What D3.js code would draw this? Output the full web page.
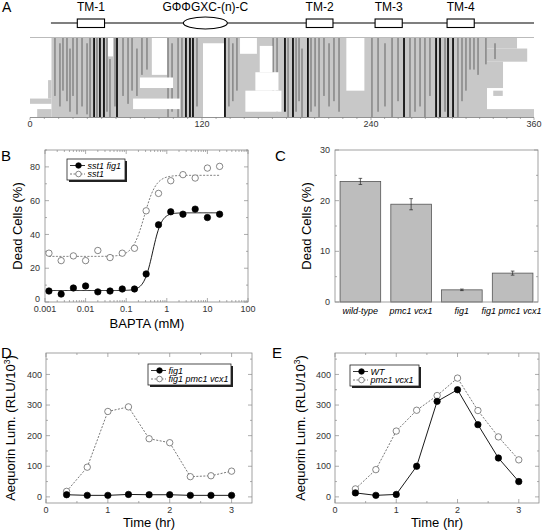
<!DOCTYPE html>
<html><head><meta charset="utf-8">
<script src="https://cdn.jsdelivr.net/npm/d3@7"></script>
<style>body{margin:0;background:#fff}svg{display:block}text{font-family:"Liberation Sans",Arial,Helvetica,sans-serif}</style>
</head><body><svg id="c" width="544" height="532"></svg>
<script>
// ---------- Panel A data ----------
const domainLabels = ["TM-1","GΦΦGXC-(n)-C","TM-2","TM-3","TM-4"];
const domainKind   = ["box","ellipse","box","box","box"];
const domainStart  = [33,107,194,243,296];
const domainEnd    = [52,138,213,263,316];
const alignTicks   = [0,120,240,360];
// [posStart,posEnd,rowStart,rowEnd]
const greyBlocks = [[15,120,0,30],[12.6,15,16,23],[0,15,23,25],[5,15,27,30],
  [120,325.4,0,30],[325.4,347.5,0,4],[325.4,355,4,9],[325.4,337.2,9,19],[330,337,20,22],[325.4,360,27,30]];
const whiteHoles = [[54.4,57.9,0,7],[85,95.6,0,14],[76.7,99.8,15,19],[71.9,104.7,23,27],
  [120.7,135.6,2,30],[147,159,0,6],[161,170,3,13],[157.9,174.3,13,20],[150.8,176.4,20,28],[222.5,235.3,0,20]];
// [pos,rowStart,rowEnd]
const darkStreaks = [[17.4,0,22],[20.9,2,26],[23,0,20],[25.8,0,24],[27.9,4,28],[30,0,22],[32.8,0,29],[36.3,0,26],[39.8,2,29],[41.9,0,30],[46.7,0,30],[53.7,0,28],[55.8,8,30],[59.3,0,26],[64.9,0,22],[68.4,0,25],[71.2,0,20],[74.6,4,22],[78.1,0,14],[81.6,0,12],
  [96.3,0,30],[99.1,2,28],[103.3,0,30],[106,0,30],[116.5,0,26],
  [139.1,0,26],[141.9,2,24],[144.8,0,20],
  [170.5,0,26],[173.3,0,28],[181.1,0,30],[186.8,0,28],[188.9,0,24],[191,4,30],[197.4,0,28],[200.3,0,26],[203.1,0,30],[206.6,0,22],[210.2,2,26],[213.7,0,24],[217.3,0,28],
  [240.7,0,30],[245.2,0,28],[250.3,2,26],[255.5,0,30],[259.9,0,24],[268.7,0,30],[272.4,0,28],[276.1,0,26],[279.7,0,30],[283.4,0,22],[294.5,0,28],[304,0,30],[307,0,24],[309.9,0,20],[312.9,0,12],[315.8,0,12],[318.8,0,14],[324.6,0,10],[331.3,2,8]];
const blackLines = [[44.7,0,30],[48.8,0,30],[51.6,0,30],[60.7,0,30],[108.8,0,30],[111.6,0,30],[113.7,0,30],[136.3,0,30],[178.9,0,28],[184.6,0,30],[195.2,0,30],[264.3,0,30],[287.9,0,30],[290.8,0,30],[296.7,0,30],[300.4,0,30]];

// ---------- Panel B data ----------
const bapta = [0.00125,0.0025,0.005,0.01,0.02,0.04,0.08,0.16,0.31,0.625,1.25,2.5,5,10,20];
const sst1fig1 = [6.5,4.7,8.3,9.5,6,6.5,7.7,7.7,16.6,45.7,53.4,52,55,50,52];
const sst1 = [28.9,24.5,27.3,24.5,30.5,26.3,28.9,31.8,54,64.3,71.8,75.4,73.4,79.3,80.3];
// Hill fit parameters: [bottom, top, EC50, n]
const fitSst1fig1 = [6.8,52.8,0.45,4];
const fitSst1 = [27,75,0.28,3];
const bXTicks = [0.001,0.01,0.1,1,10,100];
const bXTickLabels = ["0.001","0.01","0.1","1","10","100"];
const bYTicks = [0,20,40,60,80];

// ---------- Panel C data ----------
const strains = ["wild-type","pmc1 vcx1","fig1","fig1 pmc1 vcx1"];
const deadCells = [23.8,19.3,2.4,5.7];
const deadErr = [0.6,1.1,0.15,0.4];
const cYTicks = [0,10,20,30];

// ---------- Panels D/E data ----------
const timeHr = [0.333,0.667,1,1.333,1.667,2,2.333,2.667,3];
const dFig1 = [7,5,5,8,7,7,5,5,5];
const dFig1PmcVcx = [18,97,279,294,190,177,66,69,84];
const eWT = [13,5,8,100,312,350,236,127,50];
const ePmcVcx = [26,89,215,283,331,388,282,196,121];
const lumTicks = [0,100,200,300,400];
const timeTicks = [0,1,2,3];

// ---------- drawing ----------
const svg = d3.select("#c");
const FRAME = "#8a8a8a", TICKTXT = "#333";

// Panel A
const xA = d3.scaleLinear().domain([0,120,240,360]).range([30,202,371,534]);
const rA = d3.scaleLinear().domain([0,30]).range([38,117]);
const gA = svg.append("g");
gA.append("text").attr("x",2).attr("y",12).attr("font-size",14).text("A");
gA.append("line").attr("x1",xA(14.6)).attr("x2",xA(360)).attr("y1",23).attr("y2",23).attr("stroke","#000").attr("stroke-width",1.2);
domainLabels.forEach((lab,i)=>{
  const x0=xA(domainStart[i]), x1=xA(domainEnd[i]), cx=(x0+x1)/2;
  if(domainKind[i]==="box"){
    gA.append("rect").attr("x",x0).attr("y",19).attr("width",x1-x0).attr("height",8.5).attr("fill","#fff").attr("stroke","#000").attr("stroke-width",1.1);
  } else {
    gA.append("ellipse").attr("cx",cx).attr("cy",23).attr("rx",(x1-x0)/2).attr("ry",6).attr("fill","#fff").attr("stroke","#000").attr("stroke-width",1.1);
  }
  gA.append("text").attr("x",cx).attr("y",10.5).attr("text-anchor","middle").attr("font-size",12).text(lab);
});
gA.selectAll(".gb").data(greyBlocks).join("rect")
  .attr("x",d=>xA(d[0])).attr("width",d=>xA(d[1])-xA(d[0]))
  .attr("y",d=>rA(d[2])).attr("height",d=>rA(d[3])-rA(d[2])).attr("fill","#c8c8c8");
gA.selectAll(".ds").data(darkStreaks).join("rect")
  .attr("x",d=>xA(d[0])-0.8).attr("width",1.6)
  .attr("y",d=>rA(d[1])).attr("height",d=>rA(d[2])-rA(d[1])).attr("fill","#8a8a8a");
gA.selectAll(".wh").data(whiteHoles).join("rect")
  .attr("x",d=>xA(d[0])).attr("width",d=>xA(d[1])-xA(d[0]))
  .attr("y",d=>rA(d[2])).attr("height",d=>rA(d[3])-rA(d[2])).attr("fill","#fff");
gA.selectAll(".bl").data(blackLines).join("rect")
  .attr("x",d=>xA(d[0])-0.9).attr("width",1.8)
  .attr("y",d=>rA(d[1])).attr("height",d=>rA(d[2])-rA(d[1])).attr("fill","#111");
gA.append("line").attr("x1",xA(0)).attr("x2",xA(360)).attr("y1",37.5).attr("y2",37.5).attr("stroke","#aaa").attr("stroke-width",0.8);
gA.append("line").attr("x1",xA(0)).attr("x2",xA(360)).attr("y1",117.5).attr("y2",117.5).attr("stroke","#777").attr("stroke-width",0.8);
gA.selectAll(".mt").data(d3.range(0,361,10)).join("line")
  .attr("x1",d=>xA(d)).attr("x2",d=>xA(d)).attr("y1",117.5).attr("y2",d=>alignTicks.includes(d)?120:119)
  .attr("stroke","#777").attr("stroke-width",0.6);
alignTicks.forEach(t=>gA.append("text").attr("x",xA(t)).attr("y",127).attr("text-anchor","middle").attr("font-size",9).attr("fill",TICKTXT).text(t));

// helpers
function frame(g,x0,y0,x1,y1){
  g.append("rect").attr("x",x0).attr("y",y0).attr("width",x1-x0).attr("height",y1-y0).attr("fill","none").attr("stroke",FRAME).attr("stroke-width",0.8);
}
function yTicks(g,ys,vals,x0,x1,len){
  vals.forEach(v=>{const y=ys(v);
    g.append("line").attr("x1",x0).attr("x2",x0+len).attr("y1",y).attr("y2",y).attr("stroke",FRAME).attr("stroke-width",0.7);
    g.append("line").attr("x1",x1).attr("x2",x1-len).attr("y1",y).attr("y2",y).attr("stroke",FRAME).attr("stroke-width",0.7);});
}
function xTicks(g,xs,vals,y0,y1,len){
  vals.forEach(v=>{const x=xs(v);
    g.append("line").attr("x1",x).attr("x2",x).attr("y1",y1).attr("y2",y1-len).attr("stroke",FRAME).attr("stroke-width",0.7);
    g.append("line").attr("x1",x).attr("x2",x).attr("y1",y0).attr("y2",y0+len).attr("stroke",FRAME).attr("stroke-width",0.7);});
}
function yTitle(g,x,yc,txt,sup){
  const t=g.append("text").attr("transform",`translate(${x},${yc}) rotate(-90)`).attr("text-anchor","middle").attr("font-size",13).text(txt);
  if(sup){t.append("tspan").attr("dy",-5).attr("font-size",8.5).text(sup[0]);t.append("tspan").attr("dy",5).text(sup[1]);}
}
function legend(g,x0,y0,x1,y1,items){
  g.append("rect").attr("x",x0+2).attr("y",y0+2).attr("width",x1-x0).attr("height",y1-y0).attr("fill","#222");
  g.append("rect").attr("x",x0).attr("y",y0).attr("width",x1-x0).attr("height",y1-y0).attr("fill","#fff").attr("stroke","#222").attr("stroke-width",0.8);
  items.forEach((it,i)=>{
    const y=y0+6.5+i*8.5, lx0=x0+3, lx1=x0+18;
    g.append("line").attr("x1",lx0).attr("x2",lx1).attr("y1",y).attr("y2",y).attr("stroke",it.filled?"#000":"#555").attr("stroke-width",0.8).attr("stroke-dasharray",it.filled?null:"2,1.5");
    g.append("circle").attr("cx",(lx0+lx1)/2+1).attr("cy",y).attr("r",2.8).attr("fill",it.filled?"#000":"#fff").attr("stroke",it.filled?"#000":"#555").attr("stroke-width",0.7);
    g.append("text").attr("x",lx1+2.5).attr("y",y+3.1).attr("font-size",9).attr("font-style","italic").text(it.label);
  });
}
function series(g,xs,ys,xv,yv,filled,connect){
  if(connect){
    g.append("path").datum(xv.map((x,i)=>[x,yv[i]])).attr("d",d3.line().x(d=>xs(d[0])).y(d=>ys(d[1])))
      .attr("fill","none").attr("stroke",filled?"#000":"#555").attr("stroke-width",filled?0.9:0.8).attr("stroke-dasharray",filled?null:"2,1.5");
  }
  g.selectAll(null).data(xv.map((x,i)=>[x,yv[i]])).join("circle")
    .attr("cx",d=>xs(d[0])).attr("cy",d=>ys(d[1])).attr("r",3.2)
    .attr("fill",filled?"#000":"#fff").attr("stroke",filled?"#000":"#555").attr("stroke-width",0.7);
}

// Panel B
const gB = svg.append("g");
const xB = d3.scaleLog().domain([0.001,100]).range([45,248]);
const yB = d3.scaleLinear().domain([0,90]).range([302,150]);
gB.append("text").attr("x",1).attr("y",161).attr("font-size",15).text("B");
frame(gB,45,150,248,302);
yTicks(gB,yB,bYTicks,45,248,4);
yTicks(gB,yB,[10,30,50,70,90],45,248,2);
const bMinor=[];[0.001,0.01,0.1,1,10].forEach(d=>[2,3,4,5,6,7,8,9].forEach(k=>bMinor.push(d*k)));
xTicks(gB,xB,bXTicks,150,302,4);
xTicks(gB,xB,bMinor,150,302,2);
bYTicks.forEach(v=>gB.append("text").attr("x",40).attr("y",yB(v)+(v===0?-0.5:3.1)).attr("text-anchor","end").attr("font-size",9).attr("fill",TICKTXT).text(v));
bXTicks.forEach((v,i)=>gB.append("text").attr("x",xB(v)).attr("y",312).attr("text-anchor","middle").attr("font-size",9).attr("fill",TICKTXT).text(bXTickLabels[i]));
yTitle(gB,22,226,"Dead Cells (%)");
gB.append("text").attr("x",147).attr("y",328).attr("text-anchor","middle").attr("font-size",13).text("BAPTA (mM)");
function hillPath(p){
  const xs=d3.range(0,201).map(i=>Math.pow(10,Math.log10(bapta[0])+i/200*(Math.log10(bapta[bapta.length-1])-Math.log10(bapta[0]))));
  return xs.map(x=>[x,p[0]+(p[1]-p[0])/(1+Math.pow(p[2]/x,p[3]))]);
}
gB.append("path").datum(hillPath(fitSst1)).attr("d",d3.line().x(d=>xB(d[0])).y(d=>yB(d[1]))).attr("fill","none").attr("stroke","#555").attr("stroke-width",0.8).attr("stroke-dasharray","2,1.5");
gB.append("path").datum(hillPath(fitSst1fig1)).attr("d",d3.line().x(d=>xB(d[0])).y(d=>yB(d[1]))).attr("fill","none").attr("stroke","#000").attr("stroke-width",0.9);
series(gB,xB,yB,bapta,sst1,false,false);
series(gB,xB,yB,bapta,sst1fig1,true,false);
legend(gB,67,159,125,180,[{label:"sst1 fig1",filled:true},{label:"sst1",filled:false}]);

// Panel C
const gC = svg.append("g");
const xC = d3.scaleBand().domain(strains).range([335,538]).paddingInner(0.2).paddingOuter(0.1);
const yC = d3.scaleLinear().domain([0,30]).range([302,150]);
gC.append("text").attr("x",275).attr("y",161).attr("font-size",15).text("C");
gC.selectAll(null).data(strains).join("rect")
  .attr("x",d=>xC(d)).attr("width",xC.bandwidth()).attr("y",(d,i)=>yC(deadCells[i])).attr("height",(d,i)=>yC(0)-yC(deadCells[i]))
  .attr("fill","#bdbdbd").attr("stroke","#555").attr("stroke-width",0.8);
strains.forEach((s,i)=>{
  const cx=xC(s)+xC.bandwidth()/2, y0=yC(deadCells[i]-deadErr[i]), y1=yC(deadCells[i]+deadErr[i]);
  gC.append("line").attr("x1",cx).attr("x2",cx).attr("y1",y0).attr("y2",y1).attr("stroke","#222").attr("stroke-width",0.7);
  [y0,y1].forEach(y=>gC.append("line").attr("x1",cx-1.8).attr("x2",cx+1.8).attr("y1",y).attr("y2",y).attr("stroke","#222").attr("stroke-width",0.7));
  gC.append("text").attr("x",cx).attr("y",313.5).attr("text-anchor",i===3?"end":"middle").attr("dx",i===3?29:0).attr("font-size",9).attr("font-style","italic").text(s);
});
frame(gC,335,150,538,302);
yTicks(gC,yC,cYTicks,335,538,4);
yTicks(gC,yC,[5,15,25],335,538,2);
cYTicks.forEach(v=>gC.append("text").attr("x",330).attr("y",yC(v)+3.1).attr("text-anchor","end").attr("font-size",9).attr("fill",TICKTXT).text(v));
yTitle(gC,311,226,"Dead Cells (%)");

// Panels D and E
function lumPanel(letter,lx,x0,x1,titleX,legendBox,s1,s2,labels){
  const g=svg.append("g");
  const xs=d3.scaleLinear().domain([0,3.33]).range([x0,x1]);
  const ys=d3.scaleLinear().domain([-20,470]).range([503,353]);
  g.append("text").attr("x",lx).attr("y",358).attr("font-size",15).text(letter);
  frame(g,x0,353,x1,503);
  yTicks(g,ys,lumTicks,x0,x1,4);
  yTicks(g,ys,[50,150,250,350,450],x0,x1,2);
  xTicks(g,xs,timeTicks,353,503,4);
  xTicks(g,xs,[0.5,1.5,2.5],353,503,2);
  lumTicks.forEach(v=>g.append("text").attr("x",x0-4).attr("y",ys(v)+3.1).attr("text-anchor","end").attr("font-size",9).attr("fill",TICKTXT).text(v));
  timeTicks.forEach(v=>g.append("text").attr("x",xs(v)).attr("y",513).attr("text-anchor","middle").attr("font-size",9).attr("fill",TICKTXT).text(v));
  yTitle(g,titleX,428,"Aequorin Lum. (RLU/10",["3",")"]);
  g.append("text").attr("x",(x0+x1)/2).attr("y",527).attr("text-anchor","middle").attr("font-size",13).text("Time (hr)");
  series(g,xs,ys,timeHr,s2,false,true);
  series(g,xs,ys,timeHr,s1,true,true);
  legend(g,legendBox[0],legendBox[1],legendBox[2],legendBox[3],[{label:labels[0],filled:true},{label:labels[1],filled:false}]);
}
lumPanel("D",1,46,252,15,[148,364,231,385],dFig1,dFig1PmcVcx,["fig1","fig1 pmc1 vcx1"]);
lumPanel("E",272,335,539,305,[350,365,419,386],eWT,ePmcVcx,["WT","pmc1 vcx1"]);
</script></body></html>
